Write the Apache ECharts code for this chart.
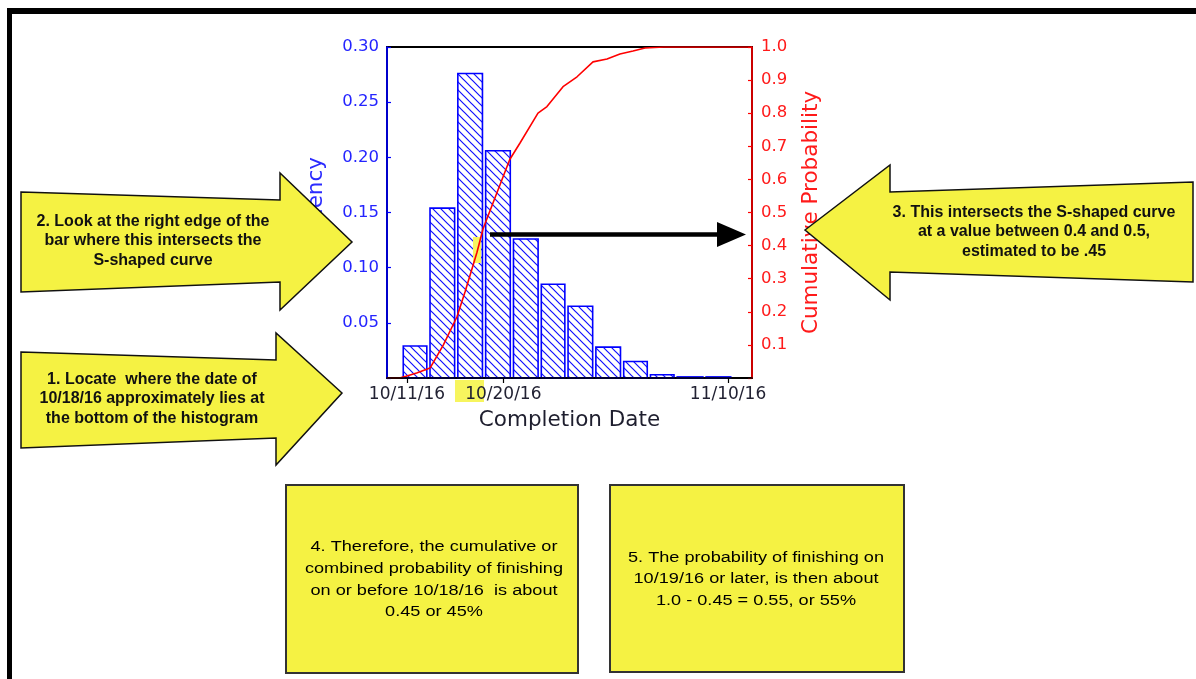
<!DOCTYPE html>
<html><head><meta charset="utf-8">
<script src="https://cdn.jsdelivr.net/npm/echarts@6/dist/echarts.min.js"></script>
<style>html,body{margin:0;padding:0;background:#fff}#c{width:1196px;height:679px}</style>
</head><body><div id="c"></div>
<script>
// ---- data (days are October day numbers: 32 = Nov 1) ----
const binEdges = [10.5, 13.0, 15.6, 18.2, 20.8, 23.4, 25.9, 28.5, 31.1, 33.6, 36.1, 38.8, 41.4];
const frequency = [0.029, 0.154, 0.276, 0.206, 0.126, 0.085, 0.065, 0.028, 0.015, 0.003, 0.001, 0.001];
const cumDays = [9.13, 10.3, 10.9, 11.9, 13.15, 14.4, 15.67, 16.42, 17.54, 18.1, 20.6, 21.56, 23.24, 24.08, 25.58, 26.89, 28.38, 29.69, 30.9, 32.12, 33.24, 35.0, 43.24];
const cumProb = [0, 0, 0.005, 0.015, 0.03, 0.10, 0.185, 0.26, 0.38, 0.45, 0.66, 0.71, 0.80, 0.82, 0.88, 0.91, 0.955, 0.964, 0.979, 0.988, 0.997, 1.0, 1.0];
const xTickDays = [11, 20, 41];
const xTickLabels = ['10/11/16', '10/20/16', '11/10/16'];
const xRange = [9.13, 43.24];

function makeHatch() {
  const s = 8, c = document.createElement('canvas');
  c.width = s; c.height = s;
  const g = c.getContext('2d');
  g.strokeStyle = '#1010ff'; g.lineWidth = 1.2;
  g.beginPath();
  g.moveTo(-1, -1); g.lineTo(s + 1, s + 1);
  g.moveTo(-1, s - 1); g.lineTo(1, s + 1);
  g.moveTo(s - 1, -1); g.lineTo(s + 1, 1);
  g.stroke();
  return c;
}
const hatch = makeHatch();

const axisFont = 'DejaVu Sans';
const noteFont = '"Liberation Sans", Arial, sans-serif';
const yellow = '#f5f243';

const histData = frequency.map((v, i) => [binEdges[i], binEdges[i + 1], v]);
const cumData = cumDays.map((d, i) => [d, cumProb[i]]);

const chart = echarts.init(document.getElementById('c'), null, {renderer: 'canvas'});

function arrowText(x, y, text) {
  return {type: 'text', x: x, y: y, z: 11,
    style: {text: text, fill: '#111', font: 'bold 16px ' + noteFont, align: 'center', verticalAlign: 'middle', lineHeight: 19.5}};
}
function boxText(x, y, text) {
  return {type: 'text', x: x, y: y, z: 11, scaleX: 1.17,
    style: {text: text, fill: '#000', font: '15.5px ' + noteFont, align: 'center', verticalAlign: 'middle', lineHeight: 21.6}};
}
const arrowStyle = {fill: yellow, stroke: '#111', lineWidth: 1.5};

chart.setOption({
  animation: false,
  backgroundColor: '#fff',
  grid: {left: 387, right: 444, top: 47, bottom: 301, show: true, borderColor: '#000', borderWidth: 2, backgroundColor: 'transparent'},
  xAxis: {
    type: 'value', min: xRange[0], max: xRange[1], z: 5,
    name: 'Completion Date', nameLocation: 'middle', nameGap: 31,
    nameTextStyle: {color: '#1e1e2e', fontSize: 21.5, fontFamily: axisFont},
    axisLine: {show: true, onZero: false, lineStyle: {color: '#000', width: 1.6}},
    axisTick: {show: true, length: 5, customValues: xTickDays, lineStyle: {color: '#000', width: 1.2}},
    axisLabel: {customValues: xTickDays, margin: 8, color: '#222233', fontSize: 17, fontFamily: axisFont,
      formatter: v => { const i = xTickDays.indexOf(v); return i >= 0 ? xTickLabels[i] : ''; }},
    splitLine: {show: false}
  },
  yAxis: [{
    type: 'value', min: 0, max: 0.30, interval: 0.05, position: 'left',
    name: 'Frequency', nameLocation: 'middle', nameGap: 60,
    nameTextStyle: {color: '#2b2bff', fontSize: 21.5, fontFamily: axisFont},
    axisLine: {show: true, lineStyle: {color: '#0000ff', width: 1.6}},
    axisTick: {show: true, inside: true, length: 4, lineStyle: {color: '#0000ff', width: 1.2}},
    axisLabel: {color: '#2424ff', fontSize: 16.5, fontFamily: axisFont, margin: 8,
      formatter: v => v === 0 ? '' : v.toFixed(2)},
    splitLine: {show: false}
  }, {
    type: 'value', min: 0, max: 1, interval: 0.1, position: 'right',
    name: 'Cumulative Probability', nameLocation: 'middle', nameGap: 48,
    nameTextStyle: {color: '#ff1a1a', fontSize: 21.5, fontFamily: axisFont},
    axisLine: {show: true, lineStyle: {color: '#ff0000', width: 1.6}},
    axisTick: {show: true, inside: true, length: 4, lineStyle: {color: '#ff0000', width: 1.2}},
    axisLabel: {color: '#ff1a1a', fontSize: 16.5, fontFamily: axisFont, margin: 9,
      formatter: v => v === 0 ? '' : v.toFixed(1)},
    splitLine: {show: false}
  }],
  series: [{
    type: 'custom', z: 2, xAxisIndex: 0, yAxisIndex: 0,
    encode: {x: [0, 1], y: 2},
    data: histData,
    renderItem: function (params, api) {
      const p0 = api.coord([api.value(0), api.value(2)]);
      const p1 = api.coord([api.value(1), 0]);
      const inset = 1.6;
      return {type: 'rect',
        shape: {x: p0[0] + inset, y: p0[1], width: p1[0] - p0[0] - 2 * inset, height: p1[1] - p0[1]},
        style: {fill: {image: hatch, repeat: 'repeat'}, stroke: '#0000ff', lineWidth: 1.6}};
    }
  }, {
    type: 'line', z: 4, yAxisIndex: 1, data: cumData, showSymbol: false, symbol: 'none',
    lineStyle: {color: '#ff0000', width: 1.6}
  }],
  graphic: [
    // frame
    {type: 'rect', z: 20, shape: {x: 7, y: 8, width: 1189, height: 6}, style: {fill: '#000'}},
    {type: 'rect', z: 20, shape: {x: 7, y: 8, width: 5, height: 671}, style: {fill: '#000'}},
    // highlights
    {type: 'rect', z: 1, shape: {x: 455, y: 380, width: 29, height: 22}, style: {fill: '#f7f55e'}},
    {type: 'rect', z: 3, shape: {x: 473, y: 237, width: 8, height: 26}, style: {fill: '#f7f55e'}},
    // black arrow
    {type: 'line', z: 8, shape: {x1: 490, y1: 234.5, x2: 722, y2: 234.5}, style: {stroke: '#000', lineWidth: 4.5}},
    {type: 'polygon', z: 8, shape: {points: [[717, 222], [746, 234.5], [717, 247]]}, style: {fill: '#000'}},
    // yellow arrows
    {type: 'polygon', z: 10, shape: {points: [[21, 192], [280, 200], [280, 173], [352, 242], [280, 310], [280, 282], [21, 292]]}, style: arrowStyle},
    {type: 'polygon', z: 10, shape: {points: [[21, 352], [276, 360], [276, 333], [342, 393], [276, 465], [276, 438], [21, 448]]}, style: arrowStyle},
    {type: 'polygon', z: 10, shape: {points: [[805, 230], [890, 165], [890, 192], [1193, 182], [1193, 282], [890, 272], [890, 300]]}, style: arrowStyle},
    arrowText(153, 241, '2. Look at the right edge of the\nbar where this intersects the\nS-shaped curve'),
    arrowText(152, 399, '1. Locate  where the date of\n10/18/16 approximately lies at\nthe bottom of the histogram'),
    arrowText(1034, 232, '3. This intersects the S-shaped curve\nat a value between 0.4 and 0.5,\nestimated to be .45'),
    // boxes
    {type: 'rect', z: 10, shape: {x: 286, y: 485, width: 292, height: 188}, style: {fill: yellow, stroke: '#333', lineWidth: 2}},
    {type: 'rect', z: 10, shape: {x: 610, y: 485, width: 294, height: 187}, style: {fill: yellow, stroke: '#333', lineWidth: 2}},
    boxText(434, 579.5, '4. Therefore, the cumulative or\ncombined probability of finishing\non or before 10/18/16  is about\n0.45 or 45%'),
    boxText(756, 579, '5. The probability of finishing on\n10/19/16 or later, is then about\n1.0 - 0.45 = 0.55, or 55%')
  ]
});
</script>
</body></html>
